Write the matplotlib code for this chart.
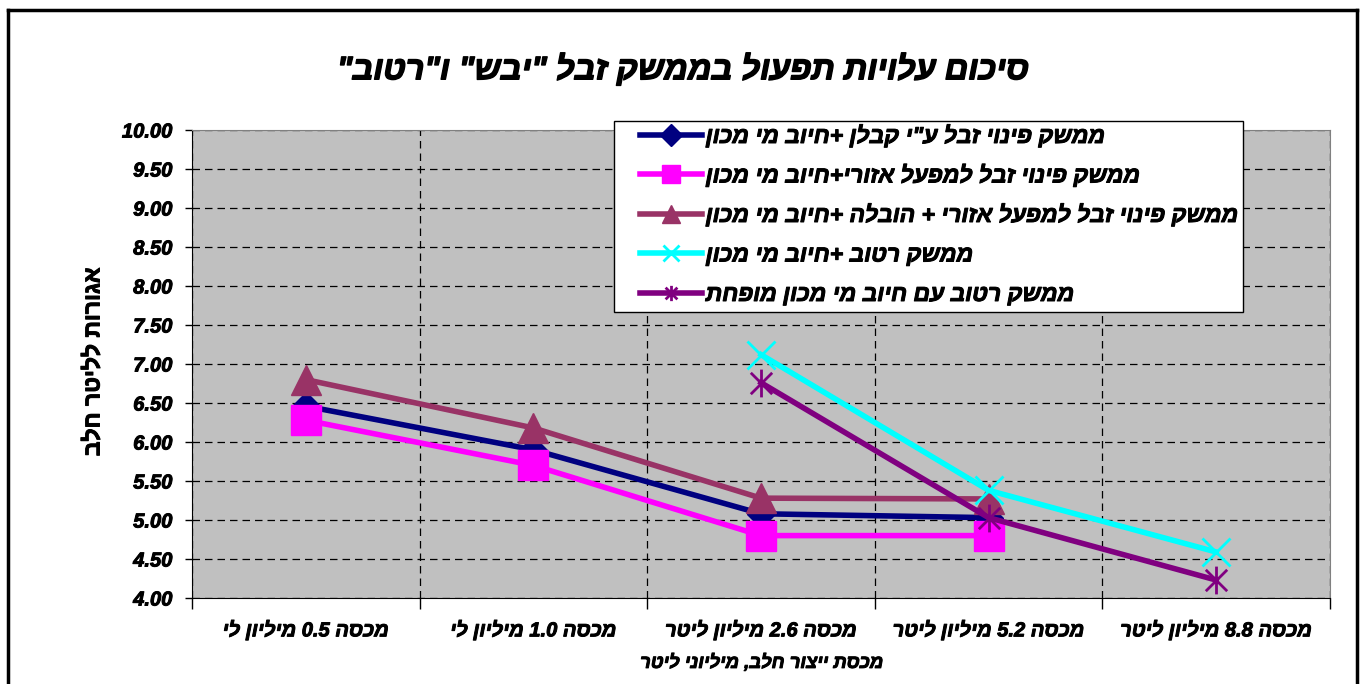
import re

import matplotlib
matplotlib.use("Agg")
import matplotlib.pyplot as plt
import matplotlib.patheffects as pe
import numpy as np
from matplotlib.lines import Line2D
from matplotlib.patches import Rectangle
from matplotlib.path import Path

plt.rcParams["font.family"] = ["Liberation Sans", "DejaVu Sans"]

categories = ["מכסה 0.5 מיליון לי", "מכסה 1.0 מיליון לי", "מכסה 2.6 מיליון ליטר",
              "מכסה 5.2 מיליון ליטר", "מכסה 8.8 מיליון ליטר"]
contractor = [6.46, 5.90, 5.08, 5.03, np.nan]
regional = [6.28, 5.70, 4.80, 4.80, np.nan]
regional_haul = [6.80, 6.18, 5.28, 5.27, np.nan]
wet = [np.nan, np.nan, 7.12, 5.38, 4.59]
wet_reduced = [np.nan, np.nan, 6.76, 5.03, 4.23]

labels = ['ממשק פינוי זבל ע"י קבלן +חיוב מי מכון',
          "ממשק פינוי זבל למפעל אזורי+חיוב מי מכון",
          "ממשק פינוי זבל למפעל אזורי + הובלה +חיוב מי מכון",
          "ממשק רטוב +חיוב מי מכון",
          "ממשק רטוב עם חיוב מי מכון מופחת"]
title = 'סיכום עלויות תפעול בממשק זבל "יבש" ו"רטוב"'
ylabel = "אגורות לליטר חלב"
xlabel = "מכסת ייצור חלב, מיליוני ליטר"

W, H = 1361, 684


def rtl(s):
    # matplotlib has no bidi, so flip the text but keep numbers readable
    out = s[::-1]
    return re.sub(r"[0-9.]+", lambda m: m.group(0)[::-1], out)


bold = [pe.withStroke(linewidth=0.7, foreground="black")]

# asterisk marker like Excel: X plus a vertical stroke
star = Path([(-1, -1), (1, 1), (-1, 1), (1, -1), (0, -1.3), (0, 1.3)],
            [Path.MOVETO, Path.LINETO, Path.MOVETO, Path.LINETO, Path.MOVETO, Path.LINETO])

fig = plt.figure(figsize=(W / 100, H / 100), dpi=100)
ax = fig.add_axes([192 / W, 86 / H, 1138 / W, 468 / H])
ax.set_facecolor("#C0C0C0")

x = np.arange(len(categories))
series = [
    (contractor, "#000080", dict(marker="D"), 14, 11),
    (regional, "#FF00FF", dict(marker="s"), 21, 13),
    (regional_haul, "#993366", dict(marker="^"), 21, 13),
    (wet, "#00FFFF", dict(marker="x", markeredgewidth=2), 20, 12),
    (wet_reduced, "#800080", dict(marker=star, markeredgewidth=2, markerfacecolor="none"), 20, 11),
]
for vals, color, mk, ms, _ in series:
    ax.plot(x, vals, color=color, linewidth=4, markersize=ms, **mk)

ax.set_xlim(-0.5, len(categories) - 0.5)
ax.set_ylim(4, 10)
yt = np.arange(4, 10.01, 0.5)
ax.set_yticks(yt)
ax.set_yticklabels([f"{v:.2f}" for v in yt], fontsize=14.5,
                   fontweight="bold", fontstyle="italic")
ax.set_xticks(x)
ax.set_xticklabels([rtl(c) for c in categories], fontsize=14.5,
                   fontweight="bold", fontstyle="italic")
ax.set_xticks(np.arange(-0.5, len(categories), 1), minor=True)
ax.tick_params(axis="x", which="major", length=0, pad=16)
ax.tick_params(axis="x", which="minor", length=8, direction="out", width=1)
ax.tick_params(axis="y", length=5, direction="out", width=1, pad=9)
for t in ax.get_xticklabels() + ax.get_yticklabels():
    t.set_path_effects(bold)

ax.grid(axis="y", which="major", color="black", linestyle=(0, (6, 4)), linewidth=0.9)
ax.grid(axis="x", which="minor", color="black", linestyle=(0, (6, 4)), linewidth=0.9)
ax.set_axisbelow(True)
for side in ["top", "right"]:
    ax.spines[side].set_color("#808080")

fig.text(683 / W, 1 - 70 / H, rtl(title), ha="center", va="center", fontsize=23.5,
         fontweight="bold", fontstyle="italic", path_effects=[pe.withStroke(linewidth=1, foreground="black")])
fig.text(93 / W, 1 - 362 / H, rtl(ylabel), rotation=90, ha="center", va="center",
         fontsize=16.5, fontweight="bold", path_effects=bold)
fig.text(762 / W, 1 - 663 / H, rtl(xlabel), ha="center", va="center", fontsize=13.3,
         fontweight="bold", fontstyle="italic", path_effects=bold)

# legend: white box drawn separately so the padding matches
fig.add_artist(Rectangle((614 / W, 1 - 312 / H), 629 / W, 191 / H, transform=fig.transFigure,
                         facecolor="white", edgecolor="black", linewidth=1, zorder=2))
handles = [Line2D([], [], color=c, linewidth=4, markersize=lms, **mk)
           for _, c, mk, _, lms in series]
leg = fig.legend(handles, [rtl(l) for l in labels], loc="upper left",
                 bbox_to_anchor=(640 / W, 1 - 125 / H), bbox_transform=fig.transFigure,
                 prop=dict(weight="bold", style="italic", size=16.5), frameon=False,
                 labelspacing=0.72, handlelength=2.7, handletextpad=0.17,
                 borderpad=0, borderaxespad=0)
leg.set_zorder(3)
for t in leg.get_texts():
    t.set_path_effects(bold)

# chart border
for xs, ys in [((8, 8), (0, 674)), ((8, 1357), (674, 674)), ((1357, 1357), (674, 0))]:
    fig.add_artist(Line2D([v / W for v in xs], [v / H for v in ys],
                          color="black", linewidth=2.5, transform=fig.transFigure))

fig.savefig("out.png", dpi=100)
